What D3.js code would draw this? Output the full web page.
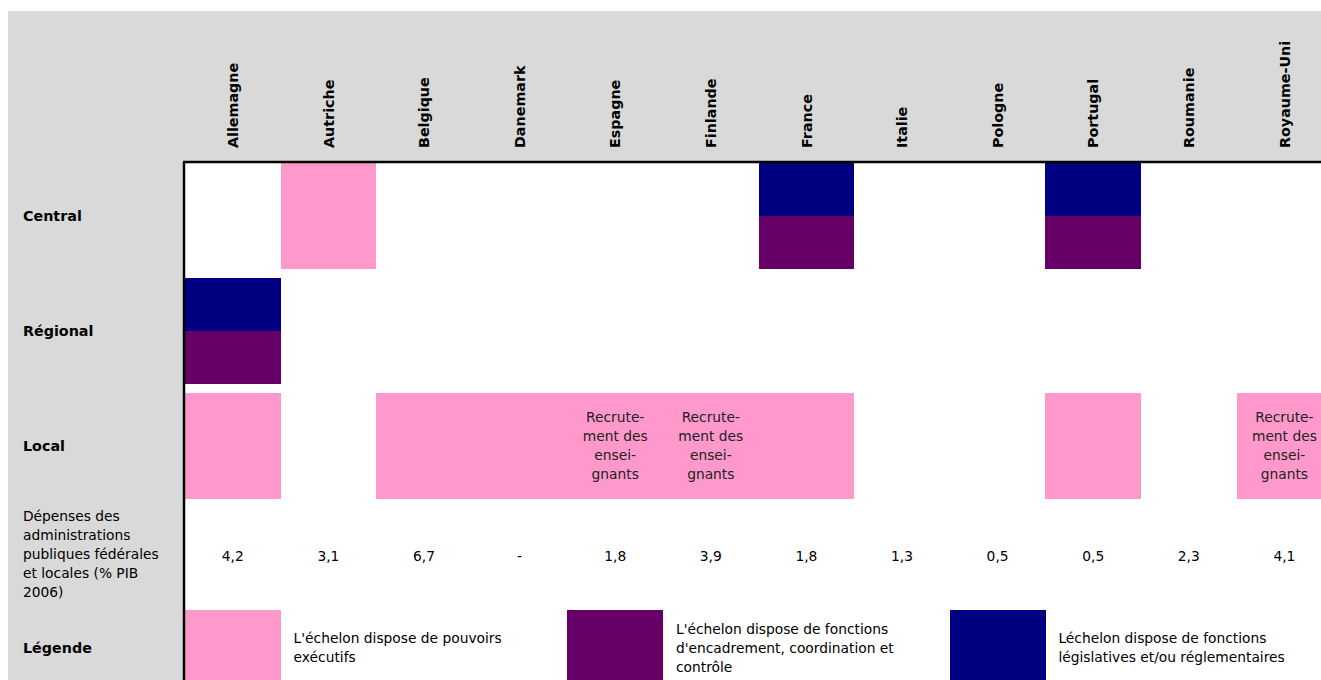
<!DOCTYPE html>
<html>
<head>
<meta charset="utf-8">
<script src="https://cdn.jsdelivr.net/npm/d3@7"></script>
<style>
  body { margin: 0; background: #fff; }
  svg text { font-family: "DejaVu Sans", Verdana, sans-serif; fill: #000; }
  svg rect { shape-rendering: crispEdges; }
</style>
</head>
<body>
<div id="chart"></div>
<script>
// Data
const countries = ["Allemagne", "Autriche", "Belgique", "Danemark", "Espagne", "Finlande",
                   "France", "Italie", "Pologne", "Portugal", "Roumanie", "Royaume-Uni"];
const levels = ["Central", "Régional", "Local"];

// roles per country for each level: L = législatif, C = coordination, E = exécutif
const centralRoles  = ["", "E", "", "", "", "", "LC", "", "", "LC", "", ""];
const regionalRoles = ["LC", "", "", "", "", "", "", "", "", "", "", ""];
const localRoles    = ["E", "", "E", "E", "E", "E", "E", "", "", "E", "", "E"];
const noteLines = ["Recrute-", "ment des", "ensei-", "gnants"];
const localNotes    = [false, false, false, false, true, true, false, false, false, false, false, true];

const spending = [4.2, 3.1, 6.7, null, 1.8, 3.9, 1.8, 1.3, 0.5, 0.5, 2.3, 4.1];
const spendingLabel = ["Dépenses des", "administrations", "publiques fédérales", "et locales (% PIB", "2006)"];

const legendRoles = ["E", "C", "L"];
const legendTexts = [
    ["L'échelon dispose de pouvoirs", "exécutifs"],
    ["L'échelon dispose de fonctions", "d'encadrement, coordination et", "contrôle"],
    ["Léchelon dispose de fonctions", "législatives et/ou réglementaires"]
];
const legendColumns = ["Allemagne", "Espagne", "Pologne"];

// Layout
const W = 1321, H = 680;
const FONT = 13.8;
const BOLD_FONT = 14.3;
const LINE = 19;
const gridLeft = 184, gridTop = 162;
const labelX = 23;

const roleColor = d3.scaleOrdinal()
    .domain(["L", "C", "E"])
    .range(["#000080", "#660066", "#ff99cc"]);

const svg = d3.select("#chart").append("svg")
    .attr("width", W)
    .attr("height", H);

const x = d3.scaleBand()
    .domain(countries)
    .range([gridLeft + 1, gridLeft + 1 + 12 * 95.6]);

const y = d3.scaleBand()
    .domain(levels)
    .range([gridTop + 1, gridTop + 1 + 2 * 115 + 106])
    .paddingInner(9 / 115);

const spendTop = y.range()[1];
const legendTop = 610;

// background panels
svg.append("rect")
    .attr("x", 8).attr("y", 11)
    .attr("width", W - 8).attr("height", H - 11)
    .attr("fill", "#d9d9d9");

svg.append("rect")
    .attr("x", gridLeft).attr("y", gridTop)
    .attr("width", W - gridLeft).attr("height", H - gridTop)
    .attr("fill", "#fff");

// header country labels
svg.append("g")
    .selectAll("text")
    .data(countries)
    .join("text")
    .attr("transform", d => `translate(${x(d) + x.bandwidth() / 2},148) rotate(-90)`)
    .attr("dy", "0.36em")
    .attr("font-size", BOLD_FONT)
    .attr("font-weight", "bold")
    .text(d => d);

// cells
const roleRows = [centralRoles, regionalRoles, localRoles];
const cellData = [];
levels.forEach((lev, li) => {
    countries.forEach((c, ci) => {
        const roles = roleRows[li][ci].split("").filter(r => r);
        roles.forEach((r, ri) => {
            cellData.push({ level: lev, country: c, role: r, index: ri, count: roles.length });
        });
    });
});

svg.append("g")
    .selectAll("rect")
    .data(cellData)
    .join("rect")
    .attr("x", d => Math.round(x(d.country)))
    .attr("y", d => Math.round(y(d.level) + d.index * y.bandwidth() / d.count))
    .attr("width", d => Math.round(x(d.country) + x.bandwidth()) - Math.round(x(d.country)))
    .attr("height", d => Math.round(y.bandwidth() / d.count))
    .attr("fill", d => roleColor(d.role));

// notes inside local cells
const noteGroup = svg.append("g");
countries.forEach((c, ci) => {
    if (!localNotes[ci]) return;
    const cy = y("Local") + y.bandwidth() / 2;
    const t = noteGroup.append("text")
        .attr("text-anchor", "middle")
        .attr("font-size", FONT)
        .style("fill", "#222");
    noteLines.forEach((ln, i) => {
        t.append("tspan")
            .attr("x", x(c) + x.bandwidth() / 2)
            .attr("y", cy + (i - (noteLines.length - 1) / 2) * LINE)
            .attr("dy", "0.35em")
            .text(ln);
    });
});

// row labels
svg.append("g")
    .selectAll("text")
    .data(levels)
    .join("text")
    .attr("x", labelX)
    .attr("y", d => y(d) + y.bandwidth() / 2)
    .attr("dy", "0.35em")
    .attr("font-size", BOLD_FONT)
    .attr("font-weight", "bold")
    .text(d => d);

// spending row
const spendMid = (spendTop + legendTop) / 2;
const spendText = svg.append("text")
    .attr("font-size", FONT);
spendingLabel.forEach((ln, i) => {
    spendText.append("tspan")
        .attr("x", labelX)
        .attr("y", spendMid + (i - (spendingLabel.length - 1) / 2) * LINE)
        .attr("dy", "0.35em")
        .text(ln);
});

const fmt = v => v == null ? "-" : d3.format(".1f")(v).replace(".", ",");
svg.append("g")
    .selectAll("text")
    .data(countries)
    .join("text")
    .attr("x", d => x(d) + x.bandwidth() / 2)
    .attr("y", spendMid + 2)
    .attr("dy", "0.35em")
    .attr("text-anchor", "middle")
    .attr("font-size", FONT)
    .text((d, i) => fmt(spending[i]));

// legend row
const legendMid = 648;
svg.append("text")
    .attr("x", labelX)
    .attr("y", legendMid)
    .attr("dy", "0.35em")
    .attr("font-size", BOLD_FONT)
    .attr("font-weight", "bold")
    .text("Légende");

legendRoles.forEach((r, i) => {
    const col = legendColumns[i];
    svg.append("rect")
        .attr("x", Math.round(x(col)))
        .attr("y", legendTop)
        .attr("width", Math.round(x.bandwidth()))
        .attr("height", H - legendTop)
        .attr("fill", roleColor(r));

    const tx = x(col) + x.bandwidth() + 13;
    const t = svg.append("text").attr("font-size", FONT);
    legendTexts[i].forEach((ln, j) => {
        t.append("tspan")
            .attr("x", tx)
            .attr("y", legendMid + (j - (legendTexts[i].length - 1) / 2) * LINE)
            .attr("dy", "0.35em")
            .text(ln);
    });
});

// grid border lines
svg.append("line")
    .attr("x1", gridLeft - 1).attr("x2", W)
    .attr("y1", gridTop).attr("y2", gridTop)
    .attr("stroke", "#000").attr("stroke-width", 2.5);
svg.append("line")
    .attr("x1", gridLeft).attr("x2", gridLeft)
    .attr("y1", gridTop).attr("y2", H)
    .attr("stroke", "#000").attr("stroke-width", 2.5);
</script>
</body>
</html>
